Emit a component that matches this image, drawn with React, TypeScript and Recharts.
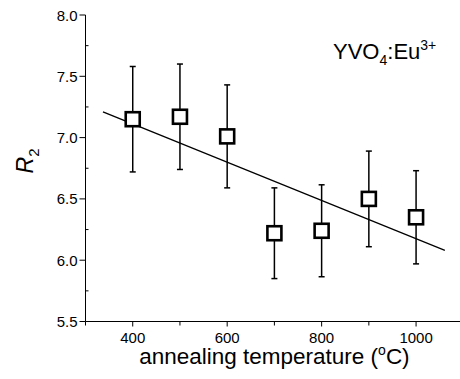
import React from 'react';
import { ComposedChart, Scatter, ErrorBar, XAxis, YAxis, Label } from 'recharts';

// R2 vs annealing temperature
const temperatures = [400, 500, 600, 700, 800, 900, 1000];
const r2Values = [7.15, 7.17, 7.01, 6.22, 6.24, 6.5, 6.35];
const r2Errors = [0.43, 0.43, 0.42, 0.37, 0.375, 0.39, 0.38];

// linear fit line, end points
const fitX = [337, 1061];
const fitY = [7.21, 6.08];

const xTicks = [300, 400, 500, 600, 700, 800, 900, 1000, 1100];
const xLabelTicks = [400, 600, 800, 1000];
const yTicks = [5.5, 5.75, 6.0, 6.25, 6.5, 6.75, 7.0, 7.25, 7.5, 7.75, 8.0];
const yLabelTicks = [5.5, 6.0, 6.5, 7.0, 7.5, 8.0];

const points = temperatures.map((t, i) => ({ x: t, y: r2Values[i], err: r2Errors[i] }));
const fitLine = fitX.map((x, i) => ({ x, y: fitY[i] }));

const FONT = '"Liberation Sans", Arial, sans-serif';

const BottomTick = (props: any) => {
  const { x, y, payload } = props;
  const major = xLabelTicks.includes(payload.value);
  return (
    <g>
      <line x1={x} x2={x} y1={y} y2={y + (major ? 5 : 4)} stroke="#000" strokeWidth={1} />
      {major && (
        <text x={x} y={y + 21} textAnchor="middle" fontSize={15} fontFamily={FONT} fill="#000">
          {payload.value}
        </text>
      )}
    </g>
  );
};

const TopTick = (props: any) => {
  const { x, y, payload } = props;
  const major = xLabelTicks.includes(payload.value);
  return <line x1={x} x2={x} y1={y} y2={y + (major ? 6 : 3)} stroke="#000" strokeWidth={1} />;
};

const LeftTick = (props: any) => {
  const { x, y, payload } = props;
  const major = yLabelTicks.includes(payload.value);
  return (
    <g>
      {major ? (
        <line x1={x - 6} x2={x} y1={y} y2={y} stroke="#000" strokeWidth={1} />
      ) : (
        <line x1={x} x2={x + 3} y1={y} y2={y} stroke="#000" strokeWidth={1} />
      )}
      {major && (
        <text x={x - 8} y={y + 5.5} textAnchor="end" fontSize={15} fontFamily={FONT} fill="#000">
          {payload.value.toFixed(1)}
        </text>
      )}
    </g>
  );
};

const RightTick = (props: any) => {
  const { x, y, payload } = props;
  const major = yLabelTicks.includes(payload.value);
  return <line x1={x} x2={x - (major ? 6 : 3)} y1={y} y2={y} stroke="#000" strokeWidth={1} />;
};

const XTitle = (props: any) => {
  const { viewBox } = props;
  const cx = viewBox.x + viewBox.width / 2;
  return (
    <text x={cx} y={viewBox.y + 42.5} textAnchor="middle" fontSize={22.5} fontFamily={FONT} fill="#000">
      annealing temperature (
      <tspan dy={-9} fontSize={14}>o</tspan>
      <tspan dy={9}>C)</tspan>
    </text>
  );
};

// y title plus the sample name in the upper right corner
const YTitle = (props: any) => {
  const { viewBox } = props;
  const top = viewBox.y;
  return (
    <g>
      <text
        transform={`translate(33, ${top + 146}) rotate(-90)`}
        textAnchor="middle"
        fontSize={23}
        fontFamily={FONT}
        fill="#000"
      >
        <tspan fontStyle="italic">R</tspan>
        <tspan dy={6} fontSize={15}>2</tspan>
      </text>
      <text x={333} y={top + 44} fontSize={22} fontFamily={FONT} fill="#000">
        YVO
        <tspan dy={6} fontSize={14}>4</tspan>
        <tspan dy={-6}>:Eu</tspan>
        <tspan dy={-9} fontSize={14}>3+</tspan>
      </text>
    </g>
  );
};

const SquareMarker = (props: any) => {
  const { cx, cy } = props;
  return <rect x={cx - 7} y={cy - 7} width={14} height={14} fill="#fff" stroke="#000" strokeWidth={2.6} />;
};

export default function App() {
  return (
    <div style={{ position: 'absolute', left: 0, top: 0, width: 460, height: 379, overflow: 'hidden', background: '#fff' }}>
      <ComposedChart width={464} height={379} margin={{ top: 15, right: 0.7, bottom: 0, left: 0 }}>
        <XAxis
          xAxisId="b"
          type="number"
          dataKey="x"
          domain={[300, 1100]}
          ticks={xTicks}
          interval={0}
          tickSize={0}
          tickMargin={0}
          tickLine={false}
          tick={<BottomTick />}
          axisLine={{ stroke: '#000', strokeWidth: 1 }}
          height={57.5}
          allowDataOverflow
        >
          <Label content={<XTitle />} />
        </XAxis>
        <XAxis
          xAxisId="t"
          orientation="top"
          type="number"
          dataKey="x"
          domain={[300, 1100]}
          ticks={xTicks}
          interval={0}
          tickSize={0}
          tickMargin={0}
          tickLine={false}
          tick={<TopTick />}
          axisLine={{ stroke: '#000', strokeWidth: 1 }}
          height={0}
          allowDataOverflow
        />
        <YAxis
          yAxisId="l"
          type="number"
          dataKey="y"
          domain={[5.5, 8.0]}
          ticks={yTicks}
          interval={0}
          tickSize={0}
          tickMargin={0}
          tickLine={false}
          tick={<LeftTick />}
          axisLine={{ stroke: '#000', strokeWidth: 1 }}
          width={85.5}
          allowDataOverflow
        >
          <Label content={<YTitle />} />
        </YAxis>
        <YAxis
          yAxisId="r"
          orientation="right"
          type="number"
          dataKey="y"
          domain={[5.5, 8.0]}
          ticks={yTicks}
          interval={0}
          tickSize={0}
          tickMargin={0}
          tickLine={false}
          tick={<RightTick />}
          axisLine={{ stroke: '#000', strokeWidth: 1 }}
          width={0}
          allowDataOverflow
        />
        <Scatter
          xAxisId="b"
          yAxisId="l"
          data={fitLine}
          line={{ stroke: '#000', strokeWidth: 1.3 }}
          shape={() => <g />}
          isAnimationActive={false}
        />
        <Scatter
          xAxisId="b"
          yAxisId="l"
          data={points}
          shape={<SquareMarker />}
          isAnimationActive={false}
        >
          <ErrorBar dataKey="err" direction="y" width={3} stroke="#000" strokeWidth={1.5} isAnimationActive={false} />
        </Scatter>
      </ComposedChart>
    </div>
  );
}
